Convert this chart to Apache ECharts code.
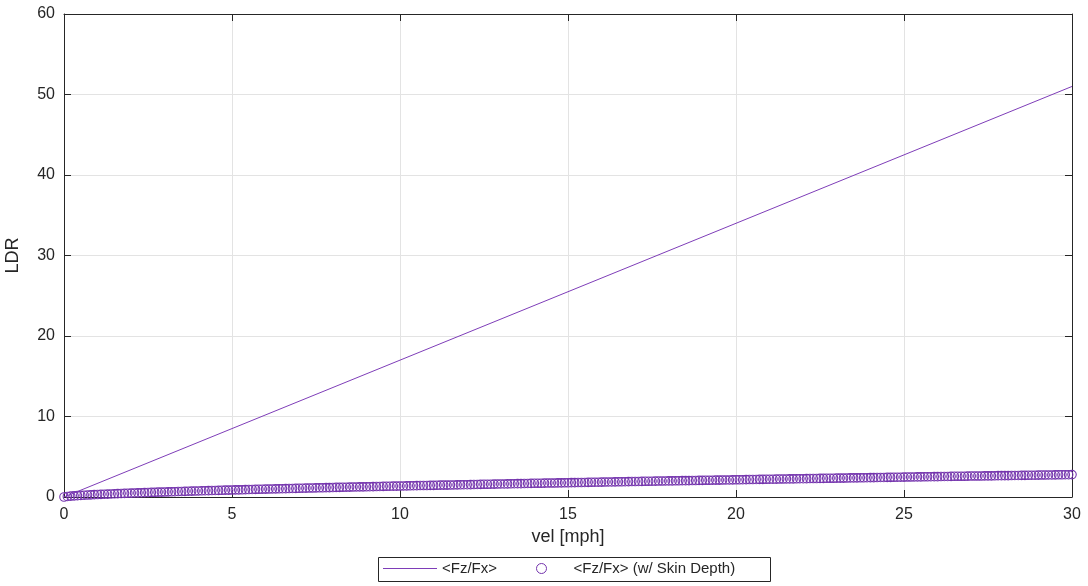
<!DOCTYPE html>
<html>
<head>
<meta charset="utf-8">
<style>
  html, body { margin: 0; padding: 0; background: #ffffff; }
  #chart { width: 1088px; height: 586px; }
</style>
<script src="https://cdn.jsdelivr.net/npm/echarts@6/dist/echarts.min.js"></script>
</head>
<body>
<div id="chart"></div>
<script>
// Lift-to-drag ratio versus speed
const seriesNames = ['<Fz/Fx>', '<Fz/Fx> (w/ Skin Depth)'];

// Thin-sheet estimate: straight line from the origin
const velLine = [0, 30];
const ldrLine = [0, 51];

// Skin-depth estimate, sampled every 0.1 mph from 0 to 30
const VEL_STEP = 0.1;
const ldrSkin = [
  0.00, 0.07, 0.11, 0.14, 0.17, 0.20, 0.22, 0.24, 0.27, 0.29,
  0.31, 0.33, 0.35, 0.36, 0.38, 0.40, 0.42, 0.43, 0.45, 0.47,
  0.48, 0.50, 0.51, 0.53, 0.54, 0.56, 0.57, 0.58, 0.60, 0.61,
  0.62, 0.64, 0.65, 0.66, 0.68, 0.69, 0.70, 0.72, 0.73, 0.74,
  0.75, 0.77, 0.78, 0.79, 0.80, 0.81, 0.82, 0.84, 0.85, 0.86,
  0.87, 0.88, 0.89, 0.90, 0.91, 0.93, 0.94, 0.95, 0.96, 0.97,
  0.98, 0.99, 1.00, 1.01, 1.02, 1.03, 1.04, 1.05, 1.06, 1.07,
  1.08, 1.09, 1.10, 1.11, 1.12, 1.13, 1.14, 1.15, 1.16, 1.17,
  1.18, 1.19, 1.20, 1.21, 1.22, 1.23, 1.24, 1.25, 1.26, 1.26,
  1.27, 1.28, 1.29, 1.30, 1.31, 1.32, 1.33, 1.34, 1.35, 1.35,
  1.36, 1.37, 1.38, 1.39, 1.40, 1.41, 1.42, 1.42, 1.43, 1.44,
  1.45, 1.46, 1.47, 1.48, 1.48, 1.49, 1.50, 1.51, 1.52, 1.53,
  1.53, 1.54, 1.55, 1.56, 1.57, 1.58, 1.58, 1.59, 1.60, 1.61,
  1.62, 1.62, 1.63, 1.64, 1.65, 1.66, 1.66, 1.67, 1.68, 1.69,
  1.70, 1.70, 1.71, 1.72, 1.73, 1.74, 1.74, 1.75, 1.76, 1.77,
  1.77, 1.78, 1.79, 1.80, 1.80, 1.81, 1.82, 1.83, 1.84, 1.84,
  1.85, 1.86, 1.87, 1.87, 1.88, 1.89, 1.89, 1.90, 1.91, 1.92,
  1.92, 1.93, 1.94, 1.95, 1.95, 1.96, 1.97, 1.98, 1.98, 1.99,
  2.00, 2.00, 2.01, 2.02, 2.03, 2.03, 2.04, 2.05, 2.05, 2.06,
  2.07, 2.08, 2.08, 2.09, 2.10, 2.10, 2.11, 2.12, 2.12, 2.13,
  2.14, 2.14, 2.15, 2.16, 2.17, 2.17, 2.18, 2.19, 2.19, 2.20,
  2.21, 2.21, 2.22, 2.23, 2.23, 2.24, 2.25, 2.25, 2.26, 2.27,
  2.27, 2.28, 2.29, 2.29, 2.30, 2.31, 2.31, 2.32, 2.33, 2.33,
  2.34, 2.35, 2.35, 2.36, 2.37, 2.37, 2.38, 2.39, 2.39, 2.40,
  2.41, 2.41, 2.42, 2.43, 2.43, 2.44, 2.44, 2.45, 2.46, 2.46,
  2.47, 2.48, 2.48, 2.49, 2.50, 2.50, 2.51, 2.51, 2.52, 2.53,
  2.53, 2.54, 2.55, 2.55, 2.56, 2.57, 2.57, 2.58, 2.58, 2.59,
  2.60, 2.60, 2.61, 2.61, 2.62, 2.63, 2.63, 2.64, 2.65, 2.65,
  2.66, 2.66, 2.67, 2.68, 2.68, 2.69, 2.69, 2.70, 2.71, 2.71,
  2.72, 2.73, 2.73, 2.74, 2.74, 2.75, 2.76, 2.76, 2.77, 2.77,
  2.78
];

const xTicks = [0, 5, 10, 15, 20, 25, 30];
const yTicks = [0, 10, 20, 30, 40, 50, 60];

const PURPLE = '#7e3db8';
const MARKER = '#7434ad';
const AXIS = '#262626';
const GRID = '#e3e3e3';
const FONT = 'Liberation Sans, Arial, Helvetica, sans-serif';

const linePoints = velLine.map((v, i) => [v, ldrLine[i]]);
const skinPoints = ldrSkin.map((y, i) => [+(i * VEL_STEP).toFixed(1), y]);

const tickStyle = { show: true, inside: true, length: 7, lineStyle: { color: AXIS, width: 1 } };
const axisLineStyle = { show: true, onZero: false, lineStyle: { color: AXIS, width: 1 } };

const chart = echarts.init(document.getElementById('chart'), null, { renderer: 'canvas' });
chart.setOption({
  animation: false,
  backgroundColor: '#ffffff',
  grid: { left: 64, right: 16, top: 14, bottom: 89, containLabel: false, outerBoundsMode: 'none' },
  xAxis: [
    {
      type: 'value', gridIndex: 0, position: 'bottom',
      min: xTicks[0], max: xTicks[xTicks.length - 1], interval: 5,
      name: 'vel [mph]', nameLocation: 'middle', nameGap: 31,
      nameTextStyle: { color: AXIS, fontSize: 18, fontFamily: FONT },
      axisLine: axisLineStyle, axisTick: tickStyle,
      splitLine: { show: true, lineStyle: { color: GRID, width: 1 } },
      axisLabel: { color: AXIS, fontSize: 16, fontFamily: FONT, margin: 10 }
    },
    {
      type: 'value', gridIndex: 0, position: 'top',
      min: 0, max: 30, interval: 5,
      axisLine: axisLineStyle, axisTick: tickStyle,
      splitLine: { show: false }, axisLabel: { show: false }
    }
  ],
  yAxis: [
    {
      type: 'value', gridIndex: 0, position: 'left',
      min: yTicks[0], max: yTicks[yTicks.length - 1], interval: 10,
      name: 'LDR', nameLocation: 'middle', nameGap: 42,
      nameTextStyle: { color: AXIS, fontSize: 18, fontFamily: FONT },
      axisLine: axisLineStyle, axisTick: tickStyle,
      splitLine: { show: true, lineStyle: { color: GRID, width: 1 } },
      axisLabel: { color: AXIS, fontSize: 16, fontFamily: FONT, margin: 9 }
    },
    {
      type: 'value', gridIndex: 0, position: 'right',
      min: 0, max: 60, interval: 10,
      axisLine: axisLineStyle, axisTick: tickStyle,
      splitLine: { show: false }, axisLabel: { show: false }
    }
  ],
  // Legend frame
  graphic: [
    {
      type: 'rect', left: 378, top: 557, z: 0,
      shape: { width: 392, height: 24 },
      style: { fill: '#ffffff', stroke: AXIS, lineWidth: 1 }
    }
  ],
  legend: [
    {
      left: 383, top: 561, padding: 0,
      itemWidth: 54, itemHeight: 14,
      textStyle: { color: AXIS, fontSize: 15, fontFamily: FONT },
      data: [{
        name: seriesNames[0], icon: 'path://M0,7L54,7L54,8L0,8Z',
        itemStyle: { color: PURPLE, borderWidth: 0 },
        lineStyle: { width: 0 }
      }]
    },
    {
      left: 536, top: 561, padding: 0,
      itemWidth: 10, itemHeight: 10,
      textStyle: { color: AXIS, fontSize: 15, fontFamily: FONT, padding: [0, 0, 0, 22] },
      data: [{
        name: seriesNames[1], icon: 'circle',
        itemStyle: { color: 'rgba(0,0,0,0)', borderColor: MARKER, borderWidth: 1 }
      }]
    }
  ],
  series: [
    {
      name: seriesNames[0], type: 'line', data: linePoints,
      xAxisIndex: 0, yAxisIndex: 0,
      showSymbol: false, symbol: 'none',
      lineStyle: { color: PURPLE, width: 1 },
      itemStyle: { color: PURPLE },
      z: 3
    },
    {
      name: seriesNames[1], type: 'scatter', data: skinPoints,
      xAxisIndex: 0, yAxisIndex: 0,
      symbol: 'circle', symbolSize: 8.5,
      itemStyle: { color: 'rgba(0,0,0,0)', borderColor: MARKER, borderWidth: 1.1, opacity: 1 },
      z: 2
    }
  ]
});
</script>
</body>
</html>
